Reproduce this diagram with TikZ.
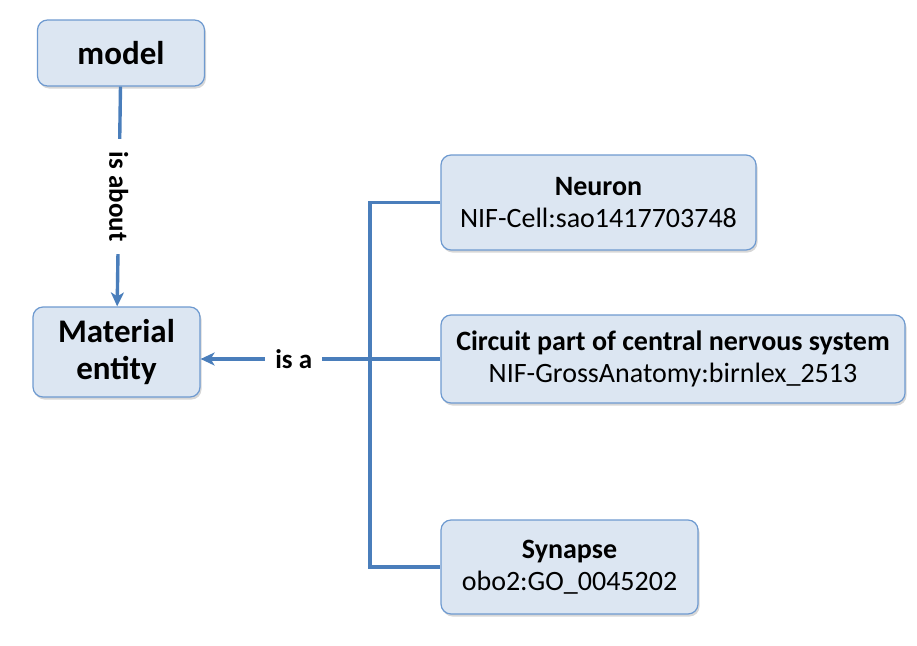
\documentclass[tikz,border=0pt]{standalone}
\usepackage{fontspec}
\setmainfont{Carlito}
\usetikzlibrary{arrows.meta, positioning, shadows}

\definecolor{boxfill}{HTML}{DCE6F2}
\definecolor{boxline}{HTML}{6E9AD0}
\definecolor{linkblue}{HTML}{4A7EBB}

\begin{document}
\begin{tikzpicture}[
    x=1pt, y=-1pt,
    every node/.style={font=\fontsize{28}{32}\selectfont, text=black},
    termbox/.style={rectangle, draw=boxline, fill=boxfill, rounded corners=10pt,
                  align=center, inner sep=0pt, line width=1.2pt,
                  drop shadow={shadow xshift=1.5pt, shadow yshift=-2.5pt, fill=black!35, opacity=0.45}},
    bigterm/.style={termbox, font=\fontsize{33}{37}\selectfont\bfseries},
    link/.style={line width=3.4pt, color=linkblue},
    arr/.style={link, -{Stealth[length=14pt, width=13pt, inset=4pt]}},
    linklabel/.style={fill=white, font=\fontsize{27}{32}\selectfont\bfseries, inner sep=10pt},
]
\useasboundingbox (0,0) rectangle (917,645);

% left column
\node[bigterm, minimum width=167pt, minimum height=66pt] (model) at (121,53) {model};
\node[bigterm, minimum width=167pt, minimum height=90pt] (material) at (116.5,352) {Material\\entity};

% right column
\node[termbox, minimum width=315pt, minimum height=95pt] (neuron) at (598.5,202.5)
    {\textbf{Neuron}\\NIF-Cell:sao1417703748};
\node[termbox, minimum width=464pt, minimum height=88pt] (circuit) at (673,359)
    {\textbf{Circuit part of central nervous system}\\NIF-GrossAnatomy:birnlex\_2513};
\node[termbox, minimum width=257pt, minimum height=94pt] (synapse) at (569.5,567)
    {\textbf{Synapse}\\obo2:GO\_0045202};

\coordinate (bar) at (370,359);

\draw[arr] (model) -- node[linklabel, rotate=-90, inner sep=13pt] {is about} (material);
\draw[link] (neuron.west) -- (neuron.west -| bar) -- (synapse.west -| bar) -- (synapse.west);
\draw[link] (circuit.west) -- (bar);
\draw[arr] (bar) -- node[linklabel, pos=0.45] {is a} (bar -| material.east);

\end{tikzpicture}
\end{document}
